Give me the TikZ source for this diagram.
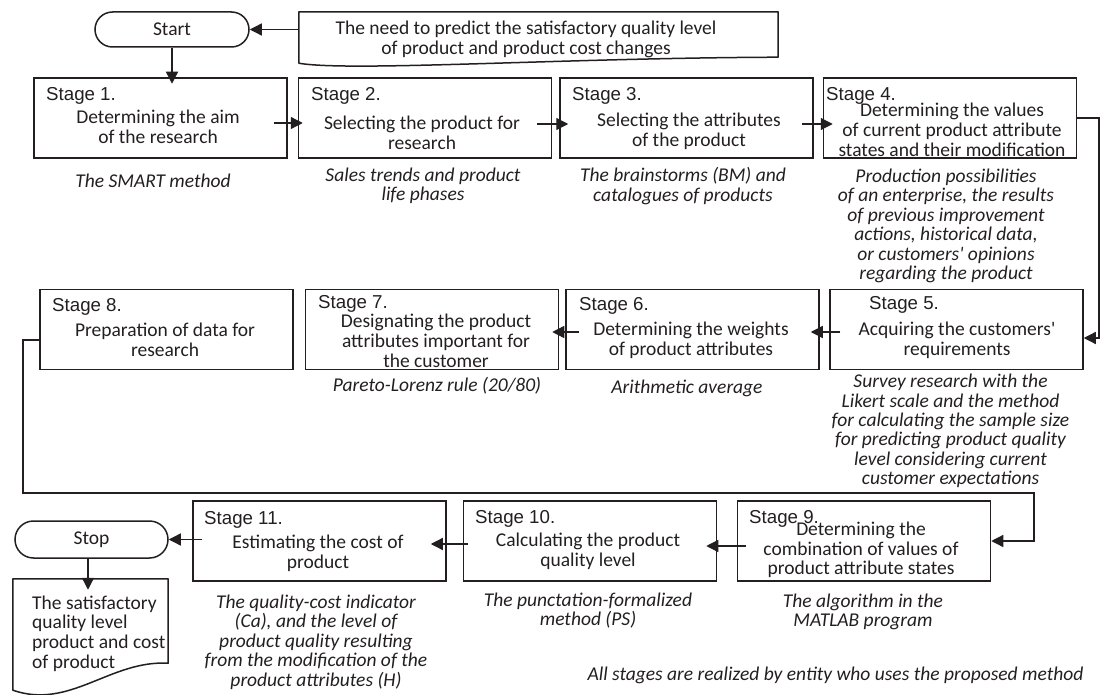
\documentclass[tikz,border=0pt]{standalone}
\usepackage{fontspec}
\setmainfont{Carlito}[Ligatures=TeXOff]
\newfontfamily\arialfont{Liberation Sans}
\usetikzlibrary{arrows.meta}
\definecolor{lc}{RGB}{35,31,32}
\begin{document}
\begin{tikzpicture}[x=1pt,y=-1pt,
  stagebox/.style={draw=lc, line width=1.5pt, minimum width=253pt, minimum height=80pt, inner sep=0pt},
  stlabel/.style={font=\arialfont\fontsize{18.7}{20}\selectfont, inner sep=0pt, anchor=west, text=lc},
  body/.style={font=\fontsize{19.5}{19.7}\selectfont, align=center, inner sep=0pt, text=lc},
  note/.style={font=\itshape\fontsize{19.5}{19.4}\selectfont, align=center, inner sep=0pt, text=lc},
  term/.style={draw=lc, line width=1.5pt, font=\fontsize{19.5}{19.7}\selectfont, text=lc, inner sep=0pt},
  docline/.style={draw=lc, line width=1.5pt, line join=round},
  arr/.style={draw=lc, line width=1.3pt, -{Triangle[length=12pt,width=12pt]}},
]
\useasboundingbox (0,0) rectangle (1101,695);

% top terminal and input document
\node[term, minimum width=154pt, minimum height=35pt, rounded corners=17.5pt] (start) at (172,29.5) {Start};
\node[minimum width=479pt, minimum height=51pt, inner sep=0pt] (need) at (538.5,37.5) {};
\draw[docline] (need.north west) -- (need.north east) -- ([yshift=6pt]need.south east)
  .. controls (560,58) and (350,72) .. (need.south west) -- cycle;
\node[body] (needtxt) at (526,39.5) {The need to predict the satisfactory quality level\\of product and product cost changes};

% row 1
\node[stagebox] (s1) at (160.5,118) {};
\node[stlabel] (s1l) at (46,96) {Stage 1.};
\node[body] (s1b) at (158,127) {Determining the aim\\of the research};
\node[note] (n1) at (153,181) {The SMART method};

\node[stagebox] (s2) at (425,118) {};
\node[stlabel] (s2l) at (311,96) {Stage 2.};
\node[body] (s2b) at (422,132.5) {Selecting the product for\\research};
\node[note] (n2) at (423,186) {Sales trends and product\\life phases};

\node[stagebox] (s3) at (686.5,118) {};
\node[stlabel] (s3l) at (572,96) {Stage 3.};
\node[body] (s3b) at (689,131) {Selecting the attributes\\of the product};
\node[note] (n3) at (683,186) {The brainstorms (BM) and\\catalogues of products};

\node[stagebox] (s4) at (950,118) {};
\node[stlabel] (s4l) at (826,96) {Stage 4.};
\node[body] (s4b) at (952,130) {Determining the values\\of current product attribute\\states and their modification};
\node[note] (n4) at (946,226) {Production possibilities\\of an enterprise, the results\\of previous improvement\\actions, historical data,\\or customers' opinions\\regarding the product};

% row 2
\node[stagebox] (s5) at (956.5,329.5) {};
\node[stlabel] (s5l) at (869,305) {Stage 5.};
\node[body] (s5b) at (957,340) {Acquiring the customers'\\requirements};
\node[note] (n5) at (950.5,431) {Survey research with the\\Likert scale and the method\\for calculating the sample size\\for predicting product quality\\level considering current\\customer expectations};

\node[stagebox] (s6) at (692.5,329.5) {};
\node[stlabel] (s6l) at (579,306) {Stage 6.};
\node[body] (s6b) at (691,340) {Determining the weights\\of product attributes};
\node[note] (n6) at (687,388) {Arithmetic average};

\node[stagebox] (s7) at (432,329.5) {};
\node[stlabel] (s7l) at (318,304) {Stage 7.};
\node[body] (s7b) at (436,341) {Designating the product\\attributes important for\\the customer};
\node[note] (n7) at (437,386) {Pareto-Lorenz rule (20/80)};

\node[stagebox] (s8) at (166.5,329.5) {};
\node[stlabel] (s8l) at (52,307) {Stage 8.};
\node[body] (s8b) at (165,340) {Preparation of data for\\research};

% row 3
\node[stagebox] (s9) at (864,541) {};
\node[stlabel] (s9l) at (749,519) {Stage 9.};
\node[body] (s9b) at (861,550) {Determining the\\combination of values of\\product attribute states};
\node[note] (n9) at (863,612) {The algorithm in the\\MATLAB program};

\node[stagebox] (s10) at (590,541) {};
\node[stlabel] (s10l) at (475,519) {Stage 10.};
\node[body] (s10b) at (588,551) {Calculating the product\\quality level};
\node[note] (n10) at (588,610.5) {The punctation-formalized\\method (PS)};

\node[stagebox] (s11) at (319.5,541) {};
\node[stlabel] (s11l) at (204,520) {Stage 11.};
\node[body] (s11b) at (318,553) {Estimating the cost of\\product};
\node[note] (n11) at (316,642) {The quality-cost indicator\\(Ca), and the level of\\product quality resulting\\from the modification of the\\product attributes (H)};

\node[term, minimum width=153pt, minimum height=37pt, rounded corners=18.5pt] (stop) at (91.5,539.5) {Stop};

% output document
\node[minimum width=155pt, minimum height=111pt, inner sep=0pt] (out) at (90.5,634.5) {};
\draw[docline] (out.north west) -- (out.north east) -- ([yshift=27pt]out.south east)
  .. controls (110,660) and (70,710) .. (out.south west) -- cycle;
\node[body, align=left, anchor=west] (outtxt) at (32,633.5) {The satisfactory\\quality level\\product and cost\\of product};

\node[note] (nall) at (835.5,675) {All stages are realized by entity who uses the proposed method};

% connectors
\draw[arr] ([yshift=8pt]need.west) -- (start.east);
\draw[arr] (start.south) -- ++(0,36);
\draw[arr] ([xshift=-14pt,yshift=-5pt]s1.east) -- ([xshift=5pt,yshift=-5pt]s2.west);
\draw[arr] ([xshift=-15pt,yshift=-6pt]s2.east) -- ([xshift=9pt,yshift=-6pt]s3.west);
\draw[arr] ([xshift=-12pt,yshift=-6pt]s3.east) -- ([xshift=10pt,yshift=-6pt]s4.west);
\draw[arr] (s4.east) -- (1099,118) |- ([yshift=-8.5pt]s5.east);
\draw[arr] ([xshift=11pt,yshift=-2.5pt]s5.west) -- ([xshift=-9pt,yshift=-2.5pt]s6.east);
\draw[arr] ([xshift=14pt,yshift=-2.5pt]s6.west) -- ([xshift=-7pt,yshift=-2.5pt]s7.east);
\draw[arr] ([yshift=-10.5pt]s8.west) -- (23,340) -- (23,493) -- (1034,493) |- (s9.east);
\draw[arr] ([xshift=9pt,yshift=-5pt]s9.west) -- ([xshift=-11pt,yshift=-5pt]s10.east);
\draw[arr] ([xshift=5pt,yshift=-3pt]s10.west) -- ([xshift=-16pt,yshift=-3pt]s11.east);
\draw[arr] ([xshift=10pt,yshift=1.5pt]s11.west) -- (stop.east);
\draw[arr] ([xshift=-3.5pt]stop.south) -- ++(0,31);
\end{tikzpicture}
\end{document}
